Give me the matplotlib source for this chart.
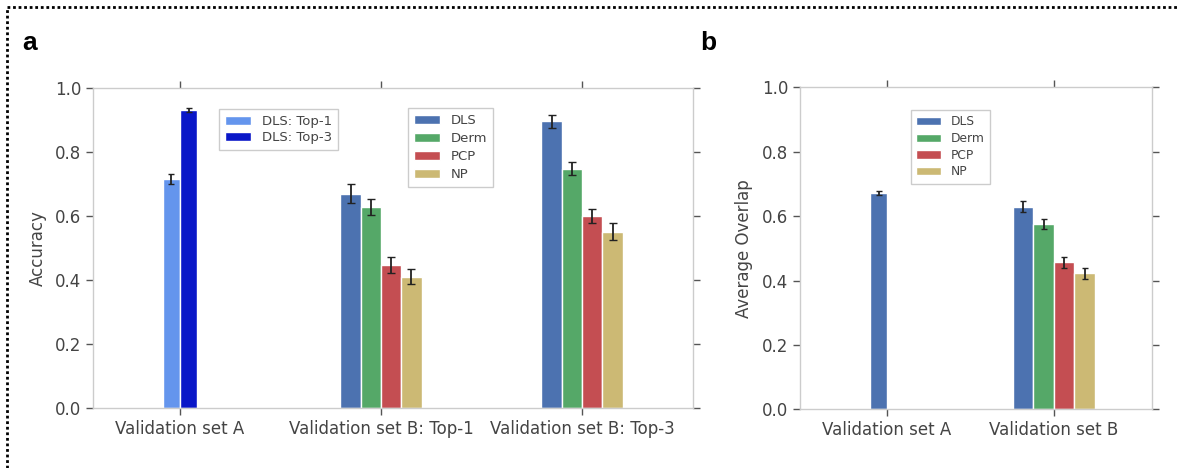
import matplotlib.pyplot as plt
from matplotlib.lines import Line2D
import numpy as np


# panel a: accuracy
groups_a = ['Validation set A', 'Validation set B: Top-1', 'Validation set B: Top-3']
top_labels = ['DLS: Top-1', 'DLS: Top-3']
top_vals = [0.714, 0.931]
top_errs = [0.015, 0.006]

readers = ['DLS', 'Derm', 'PCP', 'NP']
acc_top1 = [0.669, 0.628, 0.446, 0.410]
acc_top1_err = [0.030, 0.025, 0.025, 0.024]
acc_top3 = [0.894, 0.747, 0.599, 0.550]
acc_top3_err = [0.020, 0.021, 0.023, 0.026]

# panel b: average overlap
groups_b = ['Validation set A', 'Validation set B']
ovl_a = [0.671]
ovl_a_err = [0.007]
ovl_b = [0.629, 0.575, 0.456, 0.422]
ovl_b_err = [0.017, 0.016, 0.016, 0.017]

reader_colors = ['#4c72b0', '#55a868', '#c44e52', '#ccb974']
top_colors = ['#6495ed', '#0a17c8']

plt.rcParams['font.family'] = 'DejaVu Sans'
text_col = '#444444'
spine_col = '#cccccc'

fig = plt.figure(figsize=(11.78, 4.68), dpi=100)
ax1 = fig.add_axes([0.0789, 0.1282, 0.5094, 0.6848])
ax2 = fig.add_axes([0.6791, 0.1254, 0.2988, 0.6881])

err_kw = dict(ecolor='#222222', elinewidth=1.3, capthick=1.0)


def style(ax):
    for s in ax.spines.values():
        s.set_color(spine_col)
        s.set_linewidth(1.0)
    ax.tick_params(direction='out', length=5, width=1, color='#555555',
                   labelcolor=text_col, labelsize=12,
                   top=True, right=True)
    ax.set_ylim(0, 1.0)
    ax.set_yticks(np.arange(0, 1.01, 0.2))
    ax.yaxis.set_major_formatter(plt.FormatStrFormatter('%.1f'))


# panel a
w_top = 0.085
for i in range(2):
    ax1.bar((i - 0.5) * w_top, top_vals[i], w_top, yerr=top_errs[i], capsize=2.5,
            color=top_colors[i], edgecolor='white', linewidth=1, label=top_labels[i],
            error_kw=err_kw)
w = 0.101
for j in range(4):
    off = (j - 1.5) * w
    ax1.bar(1 + off, acc_top1[j], w, yerr=acc_top1_err[j], capsize=3,
            color=reader_colors[j], edgecolor='white', linewidth=1,
            label=readers[j], error_kw=err_kw)
    ax1.bar(2 + off, acc_top3[j], w, yerr=acc_top3_err[j], capsize=3,
            color=reader_colors[j], edgecolor='white', linewidth=1, error_kw=err_kw)

style(ax1)
ax1.set_xlim(-0.433, 2.552)
ax1.set_xticks(range(3))
ax1.set_xticklabels(groups_a)
ax1.set_ylabel('Accuracy', color=text_col, fontsize=12, labelpad=6)

h, l = ax1.get_legend_handles_labels()
leg_kw = dict(loc='upper left', borderaxespad=0, fancybox=False, framealpha=1,
              edgecolor=spine_col, handletextpad=0.8, labelcolor=text_col)
leg1 = ax1.legend(h[:2], l[:2], bbox_to_anchor=(0.1857, 0.7671),
                  bbox_transform=fig.transFigure, fontsize=9.5, handlelength=2.0,
                  borderpad=0.45, labelspacing=0.25, **leg_kw)
ax1.add_artist(leg1)
ax1.legend(h[2:], l[2:], bbox_to_anchor=(0.3463, 0.7692),
           bbox_transform=fig.transFigure, fontsize=9.5, handlelength=2.0,
           borderpad=0.45, labelspacing=0.38, **leg_kw)

# panel b
wa = 0.1
ax2.bar(-wa / 2, ovl_a[0], wa, yerr=ovl_a_err[0], capsize=2.5,
        color=reader_colors[0], edgecolor='white', linewidth=1, error_kw=err_kw)
wb = 0.123
for j in range(4):
    ax2.bar(1 + (j - 1.5) * wb, ovl_b[j], wb, yerr=ovl_b_err[j], capsize=2.5,
            color=reader_colors[j], edgecolor='white', linewidth=1,
            label=readers[j], error_kw=err_kw)

style(ax2)
ax2.set_xlim(-0.521, 1.587)
ax2.set_xticks(range(2))
ax2.set_xticklabels(groups_b)
ax2.set_ylabel('Average Overlap', color=text_col, fontsize=12, labelpad=6)
ax2.legend(bbox_to_anchor=(0.7731, 0.765), bbox_transform=fig.transFigure,
           fontsize=8.8, handlelength=2.0, borderpad=0.45, labelspacing=0.3,
           **leg_kw)

# panel letters
fig.text(0.0187, 0.893, 'a', fontsize=19, fontweight='bold', family='Liberation Sans')
fig.text(0.5942, 0.893, 'b', fontsize=19, fontweight='bold', family='Liberation Sans')

# dotted frame (top and left edges visible)
fig.add_artist(Line2D([0.006, 1.0], [0.985, 0.985], transform=fig.transFigure,
                      color='black', linestyle=(0, (1, 1)), linewidth=2))
fig.add_artist(Line2D([0.006, 0.006], [0.0, 0.985], transform=fig.transFigure,
                      color='black', linestyle=(0, (1, 1)), linewidth=2))

fig.savefig('out.png', dpi=100)
